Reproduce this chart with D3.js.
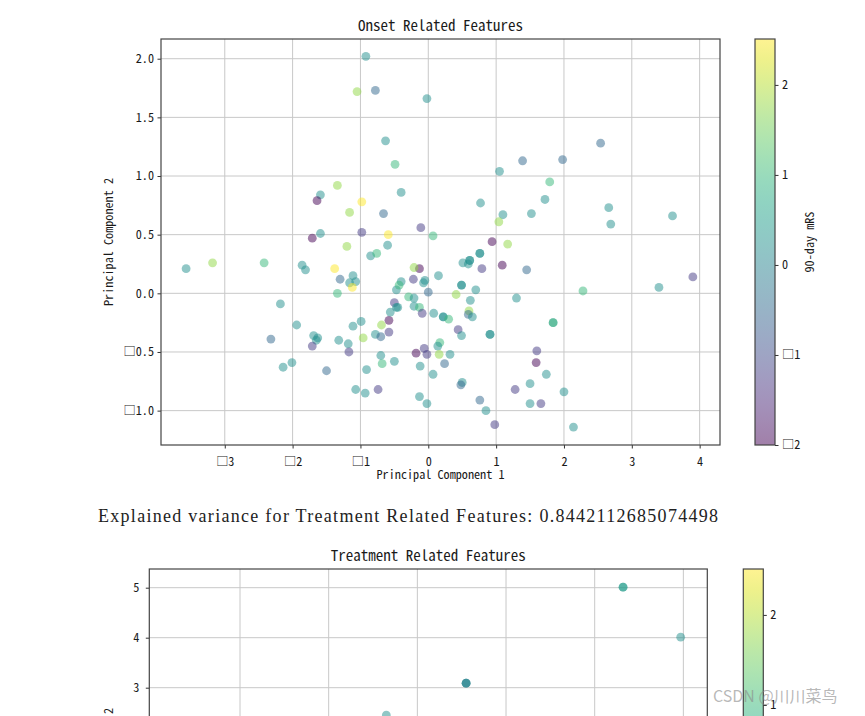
<!DOCTYPE html>
<html>
<head>
<meta charset="utf-8">
<script src="https://cdnjs.cloudflare.com/ajax/libs/d3/7.8.5/d3.min.js"></script>
<style>
  body { margin: 0; background: #fff; }
  svg { display: block; }
</style>
</head>
<body>
<div id="chart"></div>
<script>
// PCA scores of the onset related features, coloured by standardised 90-day mRS
var onsetPC1 = [-0.92, -1.05, -0.78, -0.02, -0.63, -0.49, -1.34, -1.59, -0.40, -1.64,
  -0.98, -1.16, -0.66, -0.11, -1.59, -0.98, -0.59, -1.71, -1.20, -0.60,
  2.54, 1.39, 1.98, 1.05, 1.79, 0.77, 1.72, 2.66, 1.10, 1.52,
  1.04, 2.69, 3.60, 0.07, 0.94, 1.17, 0.76, 0.76, -3.57, -3.18,
  -2.42, -1.86, -1.81, -1.38, -1.30, -1.11, -1.16, -1.07, -1.12, -1.34,
  -2.18, -1.94, -2.32, -1.69, -1.63, -1.65, -1.71, -1.32, -1.18, -1.17,
  -1.11, -0.99, -0.96, -0.78, -0.70, -0.69, -0.58, -0.58, -0.56, -0.50,
  -0.47, -0.45, -0.47, -0.40, -0.43, -0.29, -0.21, -0.21, -0.13, -0.09,
  -0.22, -0.13, -0.21, -0.07, -0.05, 0.00, -0.85, -0.76, -1.50, -0.91,
  -0.70, -0.68, -0.50, -1.07, -0.93, -0.74, -0.18, -0.06, -0.02, -0.12,
  -0.13, -0.02, -2.14, -2.01, 0.51, 0.61, 0.61, 0.59, 1.09, 0.79,
  1.45, 0.15, 0.49, 0.49, 0.70, 0.41, 1.30, 2.28, 3.40, 3.90,
  0.62, 0.60, 0.59, 0.65, 0.08, 0.22, 0.22, 0.30, 1.84, 1.84,
  0.91, 0.91, 0.44, 0.49, 0.17, 0.14, 0.16, 0.32, 1.60, 1.59,
  0.24, 0.07, 1.74, 0.50, 0.48, 1.50, 1.28, 2.00, 0.76, 0.85,
  1.50, 1.66, 0.98, 2.14];
var onsetPC2 = [2.02, 1.72, 1.73, 1.66, 1.30, 1.10, 0.92, 0.84, 0.86, 0.79,
  0.78, 0.69, 0.68, 0.56, 0.51, 0.52, 0.50, 0.47, 0.40, 0.41,
  1.28, 1.13, 1.14, 1.04, 0.95, 0.77, 0.80, 0.73, 0.67, 0.68,
  0.61, 0.59, 0.66, 0.49, 0.44, 0.42, 0.34, 0.34, 0.21, 0.26,
  0.26, 0.24, 0.20, 0.21, 0.12, 0.15, 0.09, 0.10, 0.05, 0.00,
  -0.09, -0.27, -0.39, -0.36, -0.38, -0.40, -0.45, -0.40, -0.43, -0.50,
  -0.28, -0.24, -0.38, -0.35, -0.37, -0.27, -0.23, -0.33, -0.16, -0.08,
  -0.12, -0.12, 0.03, 0.10, 0.07, -0.03, -0.04, -0.11, -0.12, -0.17,
  0.12, 0.21, 0.22, 0.09, 0.11, 0.01, 0.32, 0.34, -0.66, -0.65,
  -0.53, -0.60, -0.58, -0.82, -0.85, -0.82, -0.51, -0.47, -0.52, -0.62,
  -0.88, -0.94, -0.63, -0.59, 0.26, 0.28, 0.28, 0.25, 0.24, 0.21,
  0.20, 0.15, 0.07, 0.07, 0.03, -0.01, -0.04, 0.02, 0.05, 0.14,
  -0.06, -0.15, -0.18, -0.20, -0.17, -0.20, -0.20, -0.22, -0.25, -0.25,
  -0.35, -0.35, -0.31, -0.36, -0.42, -0.45, -0.52, -0.52, -0.49, -0.59,
  -0.60, -0.69, -0.69, -0.76, -0.78, -0.77, -0.82, -0.84, -0.91, -1.00,
  -0.94, -0.94, -1.12, -1.14];
var onsetMRS = [0.25, 1.76, -0.5, 0.25, 0.25, 1.0, 1.76, 0.25, 0.25, -2.0,
  2.51, 1.76, -0.5, -1.25, 0.25, -1.25, 2.51, -2.0, 1.76, 0.25,
  -0.5, -0.5, -0.5, 0.25, 1.0, 0.25, 0.25, 0.25, 0.25, 0.25,
  1.76, 0.25, 0.25, 1.0, -2.0, 1.76, 0.25, 0.25, 0.25, 1.76,
  1.0, 0.25, 0.25, 2.51, -0.5, 0.25, 0.25, 0.25, 2.51, 1.0,
  0.25, 0.25, -0.5, 0.25, 0.25, 0.25, -1.25, 0.25, 0.25, -1.25,
  0.25, 0.25, 1.76, 0.25, -0.5, 1.76, -2.0, -1.25, 0.25, -1.25,
  0.25, 0.25, 0.25, 0.25, 1.0, 1.0, 0.25, 0.25, 1.0, -1.25,
  -1.25, -2.0, 1.76, 0.25, 0.25, -0.5, 0.25, 1.0, -0.5, 0.25,
  0.25, 1.0, 0.25, 0.25, 0.25, -1.25, -2.0, -1.25, -1.25, 0.25,
  0.25, 0.25, 0.25, 0.25, 0.25, 0.25, 0.25, 0.25, -2.0, -1.25,
  -0.5, 0.25, 0.25, 0.25, 0.25, 1.76, 0.25, 1.0, 0.25, -1.25,
  0.25, 1.76, -0.5, 0.25, 0.25, 0.25, 0.25, 1.0, 0.25, 1.0,
  0.25, 0.25, -1.25, 0.25, 1.0, 0.25, 1.76, 0.25, -1.25, -2.0,
  -0.5, 0.25, 0.25, 0.25, -0.5, 0.25, -1.25, 0.25, -0.5, 0.25,
  0.25, -1.25, -1.25, 0.25];

// PCA scores of the treatment related features (only the top of the panel is visible)
var treatPC1 = [3.32, 3.32, 3.97, 1.55, 1.55, 1.55, 0.65];
var treatPC2 = [5.01, 5.01, 4.01, 3.09, 3.09, 3.09, 2.45];
var treatMRS = [0.25, 0.6, 0.25, 0.25, -0.5, 0.25, 0.25];

var onsetXTicks = [-3, -2, -1, 0, 1, 2, 3, 4];
var onsetXLabels = ["□3", "□2", "□1", "0", "1", "2", "3", "4"];
var onsetYTicks = [-1, -0.5, 0, 0.5, 1, 1.5, 2];
var onsetYLabels = ["□1.0", "□0.5", "0.0", "0.5", "1.0", "1.5", "2.0"];
var onsetCbarTicks = [-2, -1, 0, 1, 2];
var onsetCbarLabels = ["□2", "□1", "0", "1", "2"];

// lower panel: only the ticks inside the window
var treatXTicks = [-1, 0, 1, 2, 3, 4];
var treatYTicks = [3, 4, 5];
var treatYLabels = ["3", "4", "5"];
var treatCbarTicks = [1, 2];
var treatCbarLabels = ["1", "2"];

var mrsRange = [-2.0, 2.51];

var explainedText = "Explained variance for Treatment Related Features: 0.8442112685074498";

var W = 865, H = 716;
var FONT = '"Noto Sans Mono CJK SC", "Noto Sans CJK SC", "DejaVu Sans Mono", monospace';

var svg = d3.select("#chart").append("svg")
  .attr("width", W)
  .attr("height", H)
  .style("background", "#fff");

var color = d3.scaleSequential(d3.interpolateViridis).domain(mrsRange);

// gradient for the colorbars
var grad = svg.append("defs").append("linearGradient")
  .attr("id", "viridis")
  .attr("x1", "0%").attr("y1", "100%")
  .attr("x2", "0%").attr("y2", "0%");
d3.range(0, 1.0001, 0.05).forEach(function(t) {
  grad.append("stop")
    .attr("offset", (t * 100) + "%")
    .attr("stop-color", d3.interpolateViridis(t));
});

function styleText(sel, size) {
  sel.attr("fill", "#1a1a1a")
    .style("font-family", FONT)
    .style("font-size", size);
}

function drawPanel(o) {
  var g = svg.append("g")
    .attr("transform", `translate(${o.left}, ${o.top})`);

  var x = d3.scaleLinear().domain(o.xDomain).range([0, o.width]);
  var y = d3.scaleLinear().domain(o.yDomain).range([o.height, 0]);

  g.append("clipPath").attr("id", o.id + "-clip")
    .append("rect").attr("width", o.width).attr("height", o.height);

  // grid
  var grid = g.append("g").attr("stroke", "#c8c8c8").attr("stroke-width", 1);
  grid.selectAll(".gx").data(o.xTicks).join("line")
    .attr("x1", d => x(d)).attr("x2", d => x(d))
    .attr("y1", 0).attr("y2", o.height);
  grid.selectAll(".gy").data(o.yTicks).join("line")
    .attr("y1", d => y(d)).attr("y2", d => y(d))
    .attr("x1", 0).attr("x2", o.width);

  // points
  g.append("g").attr("clip-path", `url(#${o.id}-clip)`)
    .selectAll("circle").data(d3.range(o.px.length)).join("circle")
    .attr("cx", i => x(o.px[i]))
    .attr("cy", i => y(o.py[i]))
    .attr("r", 4.4)
    .attr("fill", i => color(o.pc[i]))
    .attr("fill-opacity", 0.5);

  // axes
  if (o.xLabels) {
    var xAxis = g.append("g")
      .attr("transform", `translate(0, ${o.height})`)
      .call(d3.axisBottom(x).tickValues(o.xTicks)
        .tickFormat((d, i) => o.xLabels[i]).tickSize(3.5).tickPadding(3.5));
    xAxis.select(".domain").remove();
    xAxis.selectAll("line").attr("stroke", "#333");
    xAxis.selectAll("text").attr("y", 21).attr("dy", 0);
    styleText(xAxis.selectAll("text"), "12.2px");

    styleText(g.append("text")
      .attr("x", o.width / 2).attr("y", o.height + 34)
      .attr("text-anchor", "middle")
      .text("Principal Component 1"), "12.2px");
  }

  var yAxis = g.append("g")
    .call(d3.axisLeft(y).tickValues(o.yTicks)
      .tickFormat((d, i) => o.yLabels[i]).tickSize(3.5).tickPadding(o.yPad));
  yAxis.select(".domain").remove();
  yAxis.selectAll("line").attr("stroke", "#333");
  styleText(yAxis.selectAll("text"), "12.2px");

  // spines
  g.append("rect")
    .attr("width", o.width).attr("height", o.height)
    .attr("fill", "none").attr("stroke", "#444").attr("stroke-width", 1.2);

  // title
  styleText(g.append("text")
    .attr("x", o.width / 2).attr("y", -8.3)
    .attr("text-anchor", "middle")
    .text(o.title), "15px");

  styleText(g.append("text")
    .attr("transform", `translate(${o.ylabX - o.left}, ${o.ylabY - o.top}) rotate(-90)`)
    .attr("text-anchor", "middle")
    .text("Principal Component 2"), "12.2px");

  // colorbar
  var cb = svg.append("g")
    .attr("transform", `translate(${o.cbLeft}, ${o.top})`);
  var cy = d3.scaleLinear().domain(mrsRange).range([o.height, 0]);
  cb.append("rect")
    .attr("width", 20).attr("height", o.height)
    .attr("fill", "url(#viridis)").attr("fill-opacity", 0.5);
  cb.append("rect")
    .attr("width", 20).attr("height", o.height)
    .attr("fill", "none").attr("stroke", "#444").attr("stroke-width", 1.2);
  var cAxis = cb.append("g")
    .attr("transform", "translate(20, 0)")
    .call(d3.axisRight(cy).tickValues(o.cbTicks)
      .tickFormat((d, i) => o.cbLabels[i]).tickSize(3.5).tickPadding(3.5));
  cAxis.select(".domain").remove();
  cAxis.selectAll("line").attr("stroke", "#333");
  styleText(cAxis.selectAll("text"), "12.2px");
  if (o.cbTitle) {
    styleText(cb.append("text")
      .attr("transform", `translate(59, ${o.height / 2}) rotate(-90)`)
      .attr("text-anchor", "middle")
      .text("90-day mRS"), "12.2px");
  }
}

drawPanel({
  id: "onset", left: 161, top: 39, width: 559, height: 406,
  xDomain: [-3.94, 4.30], yDomain: [-1.293, 2.168],
  xTicks: onsetXTicks, xLabels: onsetXLabels,
  yTicks: onsetYTicks, yLabels: onsetYLabels, yPad: 3.5,
  px: onsetPC1, py: onsetPC2, pc: onsetMRS,
  cbTicks: onsetCbarTicks, cbLabels: onsetCbarLabels, cbTitle: true,
  title: "Onset Related Features", ylabX: 113, ylabY: 242, cbLeft: 755
});

drawPanel({
  id: "treat", left: 149.3, top: 569, width: 558, height: 406,
  xDomain: [-2.023, 4.27], yDomain: [-2.746, 5.374],
  xTicks: treatXTicks, xLabels: null,
  yTicks: treatYTicks, yLabels: treatYLabels, yPad: 6.5,
  px: treatPC1, py: treatPC2, pc: treatMRS,
  cbTicks: treatCbarTicks, cbLabels: treatCbarLabels, cbTitle: false,
  title: "Treatment Related Features", ylabX: 113, ylabY: 772, cbLeft: 743.3
});

// printed output between the two figures
svg.append("text")
  .attr("x", 98).attr("y", 522)
  .attr("textLength", 620).attr("lengthAdjust", "spacing")
  .style("font-family", '"Liberation Serif", serif').style("font-size", "18px")
  .attr("fill", "#222")
  .text(explainedText);

// watermark
svg.append("text")
  .attr("x", 713).attr("y", 702)
  .style("font-family", '"Noto Sans CJK SC", sans-serif').style("font-size", "16px")
  .attr("fill", "#888").attr("fill-opacity", 0.6)
  .text("CSDN @川川菜鸟");
</script>
</body>
</html>
